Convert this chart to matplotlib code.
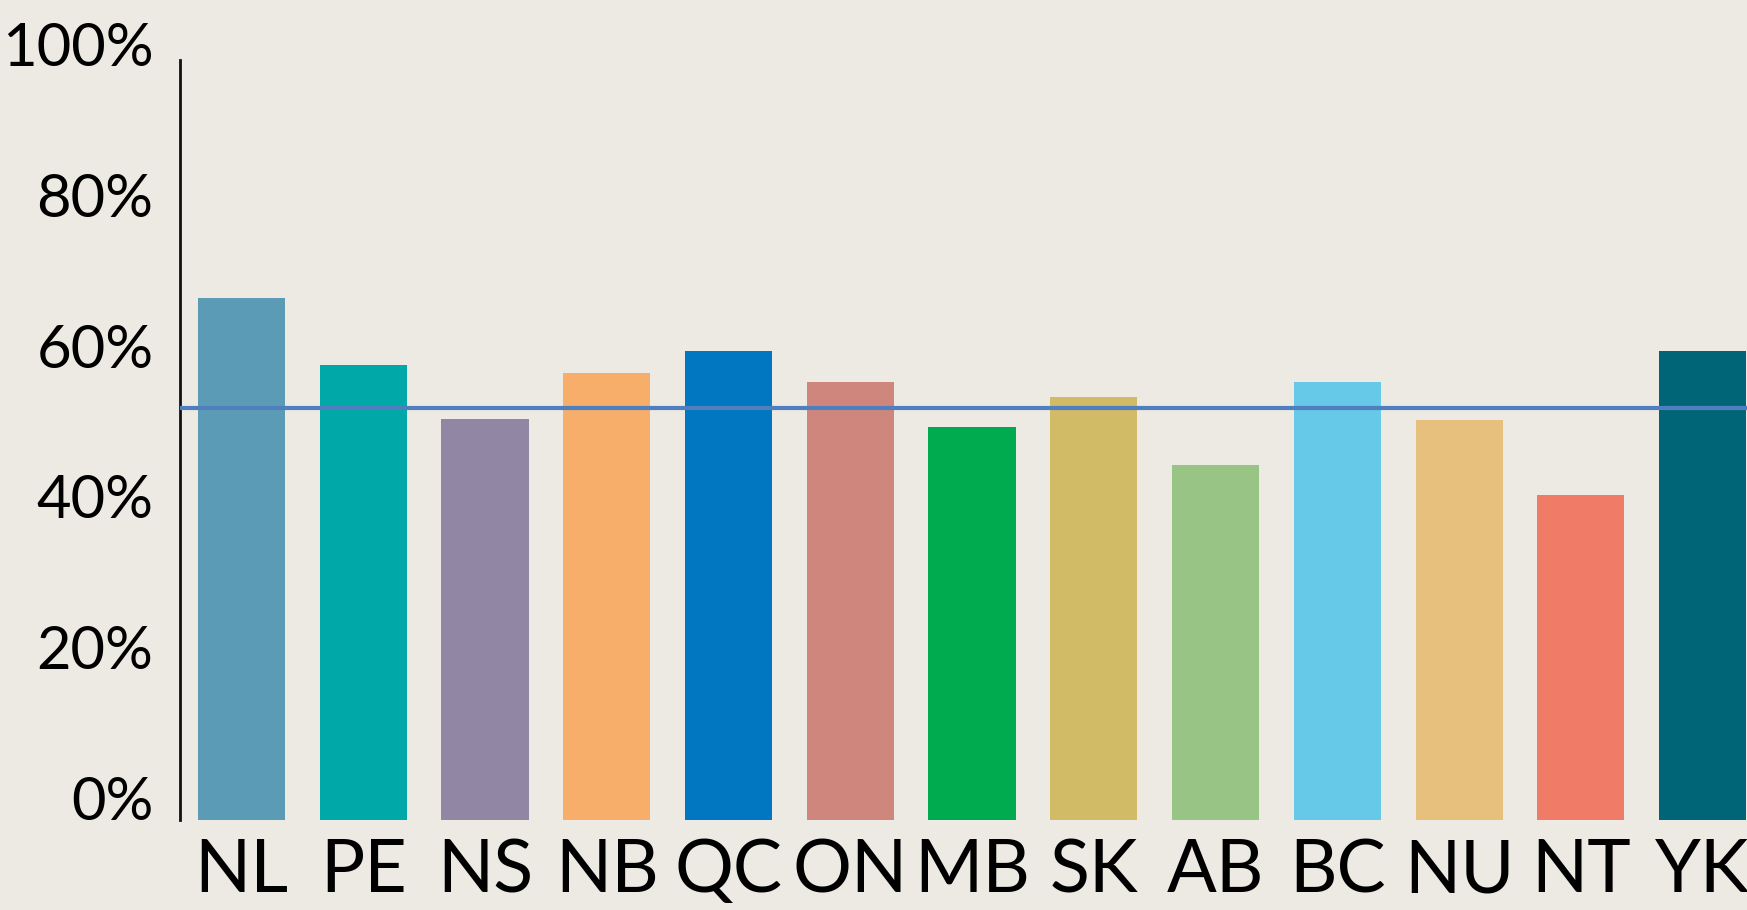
import matplotlib
matplotlib.use("Agg")
import matplotlib.pyplot as plt
import matplotlib.transforms as mtransforms
import numpy as np

# data
provinces = ["NL", "PE", "NS", "NB", "QC", "ON", "MB", "SK", "AB", "BC", "NU", "NT", "YK"]
shares = [69.2, 60.3, 53.2, 59.3, 62.2, 58.1, 52.1, 56.1, 47.1, 58.1, 53.0, 43.1, 62.2]
average = 54.6
bar_colors = ["#5b9bb5", "#00a9a8", "#9187a4", "#f7ae6b", "#0077c0", "#cf877d", "#00aa4f",
              "#d2bb67", "#98c585", "#67c9e8", "#e7c07e", "#f07c67", "#006677"]
y_ticks = [0, 20, 40, 60, 80, 100]
y_labels = ["0%", "20%", "40%", "60%", "80%", "100%"]

bg = "#edeae3"
plt.rcParams["font.family"] = ["Lato", "DejaVu Sans"]

fig = plt.figure(figsize=(17.47, 9.10), dpi=100, facecolor=bg)
# axes placed in pixel terms: left edge 180px, baseline at 820px from top
ax = fig.add_axes([180 / 1747, 90 / 910, 1 - 180 / 1747, (820 - 60) / 910])
ax.set_facecolor(bg)

x = np.arange(len(provinces))
ax.bar(x, shares, width=0.715, color=bar_colors, zorder=2)

# average line
ax.axhline(average, color="#4f7fbf", lw=3.0, zorder=3)

ax.set_xlim(-0.505, 12.365)
ax.set_ylim(0, 100.8)

for s in ["top", "right", "bottom"]:
    ax.spines[s].set_visible(False)
ax.spines["left"].set_linewidth(2.0)
ax.spines["left"].set_color("#111111")

ax.set_xticks(x)
ax.set_xticklabels(provinces, fontsize=53)
ax.set_yticks(y_ticks)
ax.set_yticklabels(y_labels, fontsize=43)
ax.tick_params(axis="x", length=0, pad=13)
ax.tick_params(axis="y", length=0, pad=19)

# y labels sit a bit above their gridline in the original
offset = mtransforms.ScaledTranslation(0, 22 / 100, fig.dpi_scale_trans)
for lab in ax.get_yticklabels():
    lab.set_transform(lab.get_transform() + offset)

fig.savefig("out.png", dpi=100, facecolor=bg)
